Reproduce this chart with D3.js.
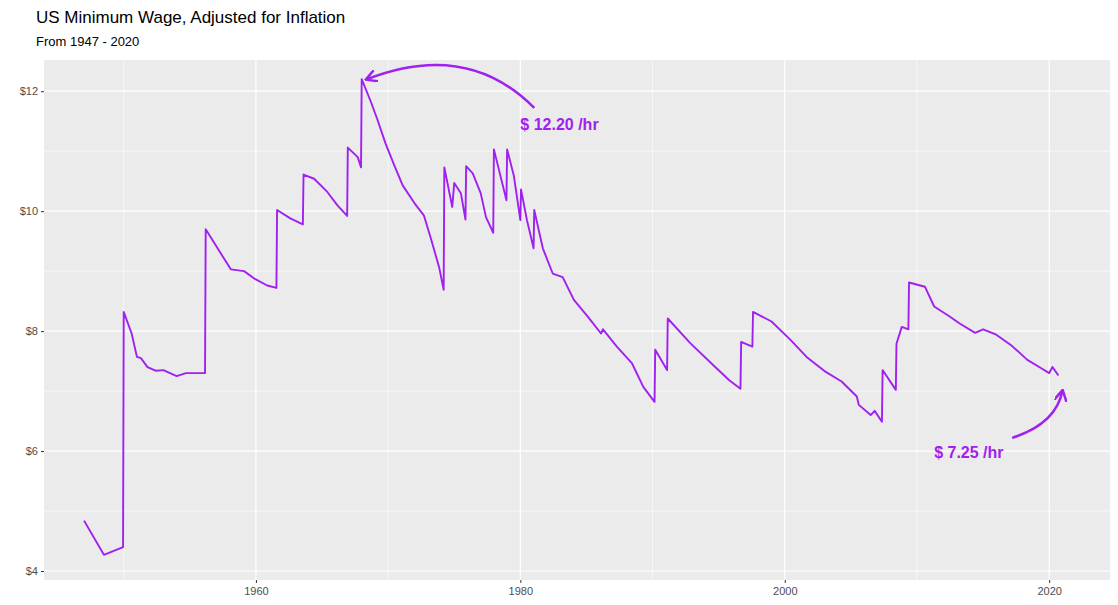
<!DOCTYPE html>
<html>
<head>
<meta charset="utf-8">
<script src="https://cdn.jsdelivr.net/npm/d3@7"></script>
<style>
  body { margin: 0; background: #fff; font-family: "Liberation Sans", Arial, sans-serif; }
</style>
</head>
<body>
<div id="vis"></div>
<script>
// year (decimal) and inflation adjusted minimum wage
const years = [
  1947.0, 1948.5, 1949.95, 1950.0, 1950.6, 1951.0, 1951.3, 1951.8, 1952.4, 1953.0, 1954.0, 1954.7, 1956.15,
  1956.2, 1957.1, 1958.1, 1959.1, 1959.85, 1960.85, 1961.55,
  1961.6, 1962.6, 1963.55,
  1963.6, 1964.4, 1965.4, 1966.15, 1966.9,
  1966.95, 1967.7, 1967.95,
  1968.0, 1968.7, 1969.2, 1969.8, 1970.45, 1971.1, 1972.0, 1972.7, 1973.2, 1973.85, 1974.2,
  1974.25, 1974.85, 1975.0, 1975.5, 1975.85,
  1975.9, 1976.4, 1977.0, 1977.4, 1977.95,
  1978.0, 1978.95,
  1979.0, 1979.5, 1980.0,
  1980.05, 1980.5, 1981.0,
  1981.05, 1981.7, 1982.45, 1983.2, 1984.05, 1985.1, 1986.1, 1986.25, 1987.3, 1988.45, 1989.3, 1990.15,
  1990.2, 1991.1,
  1991.15, 1992.85, 1994.6, 1995.8, 1996.65,
  1996.7, 1997.55,
  1997.6, 1999.0, 2000.45, 2001.65, 2003.1, 2004.3, 2005.45, 2005.6, 2006.5, 2006.8, 2007.35,
  2007.4, 2008.4,
  2008.45, 2008.85, 2009.35,
  2009.4, 2010.6, 2011.3, 2012.5, 2013.2, 2014.4, 2015.0, 2016.0, 2017.2, 2018.35, 2019.4, 2020.0, 2020.25, 2020.7
];
const wages = [
  4.84, 4.27, 4.40, 8.32, 7.96, 7.57, 7.55, 7.40, 7.34, 7.35, 7.25, 7.30, 7.30,
  9.70, 9.38, 9.03, 9.00, 8.88, 8.76, 8.72,
  10.02, 9.88, 9.78,
  10.61, 10.54, 10.32, 10.10, 9.92,
  11.06, 10.90, 10.73,
  12.20, 11.82, 11.52, 11.13, 10.77, 10.43, 10.13, 9.93, 9.57, 9.07, 8.69,
  10.73, 10.07, 10.47, 10.30, 9.86,
  10.75, 10.63, 10.30, 9.90, 9.64,
  11.03, 10.18,
  11.03, 10.60, 9.85,
  10.36, 9.85, 9.38,
  10.02, 9.38, 8.96, 8.90, 8.52, 8.24, 7.96, 8.03, 7.74, 7.46, 7.07, 6.82,
  7.69, 7.35,
  8.21, 7.80, 7.43, 7.18, 7.04,
  7.82, 7.74,
  8.32, 8.16, 7.85, 7.57, 7.32, 7.16, 6.91, 6.77, 6.60, 6.67, 6.49,
  7.35, 7.02,
  7.79, 8.07, 8.03,
  8.81, 8.74, 8.41, 8.24, 8.13, 7.97, 8.03, 7.94, 7.75, 7.52, 7.38, 7.30, 7.40, 7.26
];
const xTicks = [1960, 1980, 2000, 2020];
const yTicks = [4, 6, 8, 10, 12];
const labels = [
  { text: "$ 12.20 /hr", year: 1980.0, wage: 11.35 },
  { text: "$ 7.25 /hr", year: 2011.3, wage: 5.88 }
];

const purple = "#A020F0";
const W = 1118, H = 605;
const panel = { left: 44, right: 1110, top: 60, bottom: 580 };

const svg = d3.select("#vis").append("svg").attr("width", W).attr("height", H);

const x = d3.scaleLinear().domain([1943.97, 2024.6]).range([panel.left, panel.right]);
const y = d3.scaleLinear().domain([3.85, 12.52]).range([panel.bottom, panel.top]);

svg.append("rect")
  .attr("x", panel.left).attr("y", panel.top)
  .attr("width", panel.right - panel.left).attr("height", panel.bottom - panel.top)
  .attr("fill", "#EBEBEB");

// minor grid
const xMinor = d3.range(1950, 2021, 20);
const yMinor = d3.range(5, 12.1, 2);
svg.selectAll(".xmin").data(xMinor).enter().append("line")
  .attr("x1", d => x(d)).attr("x2", d => x(d))
  .attr("y1", panel.top).attr("y2", panel.bottom)
  .attr("stroke", "#fff").attr("stroke-width", 0.6);
svg.selectAll(".ymin").data(yMinor).enter().append("line")
  .attr("y1", d => y(d)).attr("y2", d => y(d))
  .attr("x1", panel.left).attr("x2", panel.right)
  .attr("stroke", "#fff").attr("stroke-width", 0.6);

// major grid
svg.selectAll(".xmaj").data(xTicks).enter().append("line")
  .attr("x1", d => x(d)).attr("x2", d => x(d))
  .attr("y1", panel.top).attr("y2", panel.bottom)
  .attr("stroke", "#fff").attr("stroke-width", 1.2);
svg.selectAll(".ymaj").data(yTicks).enter().append("line")
  .attr("y1", d => y(d)).attr("y2", d => y(d))
  .attr("x1", panel.left).attr("x2", panel.right)
  .attr("stroke", "#fff").attr("stroke-width", 1.2);

// axes
const xAxis = svg.append("g").attr("transform", `translate(0,${panel.bottom})`)
  .call(d3.axisBottom(x).tickValues(xTicks).tickFormat(d3.format("d")).tickSize(3).tickPadding(4));
const yAxis = svg.append("g").attr("transform", `translate(${panel.left},0)`)
  .call(d3.axisLeft(y).tickValues(yTicks).tickFormat(d => "$" + d).tickSize(3).tickPadding(3));
[xAxis, yAxis].forEach(a => {
  a.select(".domain").remove();
  a.selectAll(".tick line").attr("stroke", "#333");
  a.selectAll("text").attr("fill", "#4D4D4D").style("font-size", "11px")
    .style("font-family", "Liberation Sans, Arial, sans-serif");
});

// line
const data = years.map((d, i) => ({ year: d, wage: wages[i] }));
svg.append("path").datum(data)
  .attr("fill", "none").attr("stroke", purple).attr("stroke-width", 1.9)
  .attr("stroke-linejoin", "round")
  .attr("d", d3.line().x(d => x(d.year)).y(d => y(d.wage)));

// arrows
svg.append("defs").append("marker")
  .attr("id", "head").attr("viewBox", "0 0 10 10").attr("refX", 8).attr("refY", 5)
  .attr("markerWidth", 5).attr("markerHeight", 5).attr("orient", "auto-start-reverse")
  .append("path").attr("d", "M0,0 L9,5 L0,10").attr("fill", "none")
  .attr("stroke", purple).attr("stroke-width", 2);

function arrow(x0, y0, cx, cy, x1, y1) {
  svg.append("path")
    .attr("d", `M${x(x0)},${y(y0)} Q${x(cx)},${y(cy)} ${x(x1)},${y(y1)}`)
    .attr("fill", "none").attr("stroke", purple).attr("stroke-width", 2.5)
    .attr("marker-end", "url(#head)");
}
arrow(1981.05, 11.72, 1976.0, 12.85, 1968.4, 12.2);
arrow(2017.2, 6.22, 2020.5, 6.45, 2021.0, 7.0);

svg.selectAll(".lab").data(labels).enter().append("text")
  .attr("x", d => x(d.year)).attr("y", d => y(d.wage))
  .attr("fill", purple).style("font-weight", "bold").style("font-size", "16px")
  .text(d => d.text);

svg.append("text").attr("x", 36).attr("y", 23)
  .style("font-size", "17px").attr("fill", "#000")
  .text("US Minimum Wage, Adjusted for Inflation");
svg.append("text").attr("x", 36).attr("y", 46)
  .style("font-size", "13px").attr("fill", "#000")
  .text("From 1947 - 2020");
</script>
</body>
</html>
